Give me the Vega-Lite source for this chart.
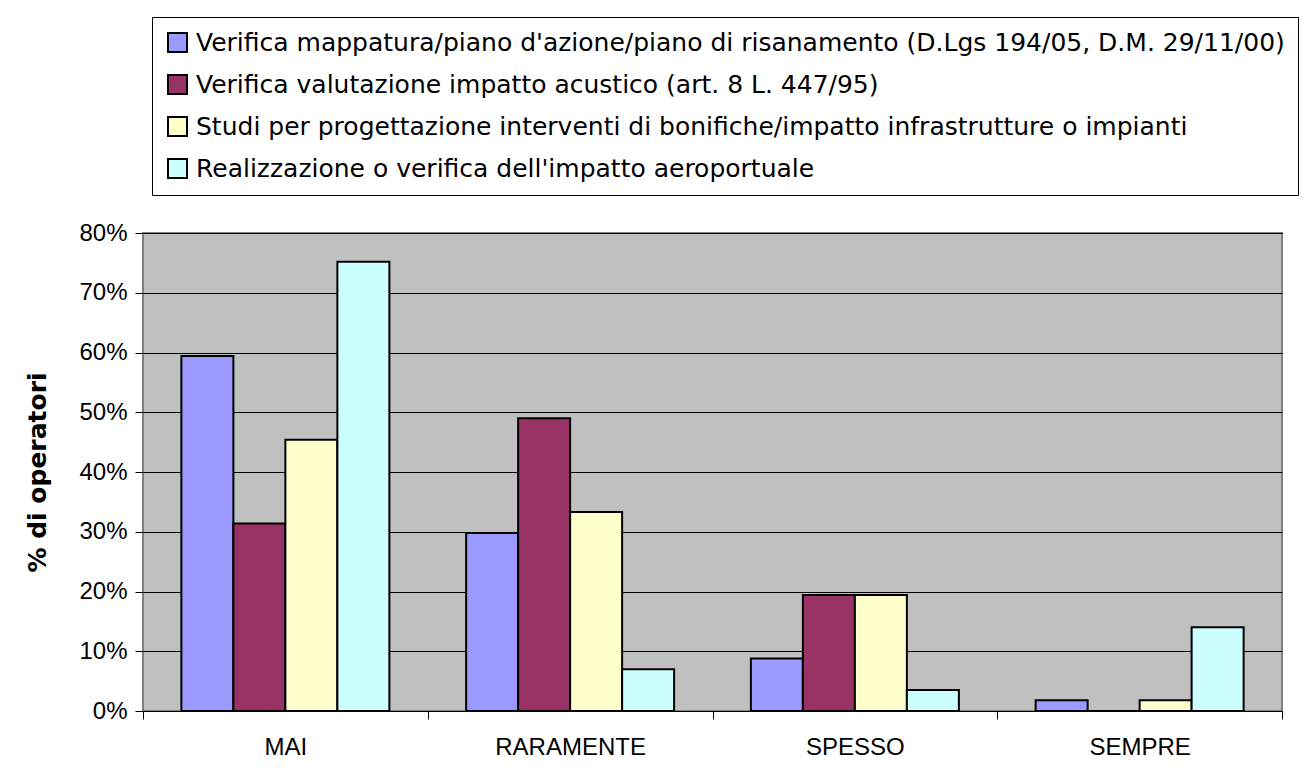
{
  "$schema": "https://vega.github.io/schema/vega-lite/v6.json",
  "width": 1139,
  "height": 478,
  "autosize": {"type": "none"},
  "padding": {"left": 143, "top": 233, "right": 24, "bottom": 63},
  "background": "white",
  "data": {
    "values": [
      {"freq": "MAI", "serie": "Verifica mappatura/piano d'azione/piano di risanamento (D.Lgs 194/05, D.M. 29/11/00)", "val": 0.594},
      {"freq": "MAI", "serie": "Verifica valutazione impatto acustico (art. 8 L. 447/95)", "val": 0.314},
      {"freq": "MAI", "serie": "Studi per progettazione interventi di bonifiche/impatto infrastrutture o impianti", "val": 0.454},
      {"freq": "MAI", "serie": "Realizzazione o verifica dell'impatto aeroportuale", "val": 0.752},
      {"freq": "RARAMENTE", "serie": "Verifica mappatura/piano d'azione/piano di risanamento (D.Lgs 194/05, D.M. 29/11/00)", "val": 0.298},
      {"freq": "RARAMENTE", "serie": "Verifica valutazione impatto acustico (art. 8 L. 447/95)", "val": 0.49},
      {"freq": "RARAMENTE", "serie": "Studi per progettazione interventi di bonifiche/impatto infrastrutture o impianti", "val": 0.333},
      {"freq": "RARAMENTE", "serie": "Realizzazione o verifica dell'impatto aeroportuale", "val": 0.07},
      {"freq": "SPESSO", "serie": "Verifica mappatura/piano d'azione/piano di risanamento (D.Lgs 194/05, D.M. 29/11/00)", "val": 0.088},
      {"freq": "SPESSO", "serie": "Verifica valutazione impatto acustico (art. 8 L. 447/95)", "val": 0.194},
      {"freq": "SPESSO", "serie": "Studi per progettazione interventi di bonifiche/impatto infrastrutture o impianti", "val": 0.194},
      {"freq": "SPESSO", "serie": "Realizzazione o verifica dell'impatto aeroportuale", "val": 0.035},
      {"freq": "SEMPRE", "serie": "Verifica mappatura/piano d'azione/piano di risanamento (D.Lgs 194/05, D.M. 29/11/00)", "val": 0.018},
      {"freq": "SEMPRE", "serie": "Verifica valutazione impatto acustico (art. 8 L. 447/95)", "val": 0.0},
      {"freq": "SEMPRE", "serie": "Studi per progettazione interventi di bonifiche/impatto infrastrutture o impianti", "val": 0.018},
      {"freq": "SEMPRE", "serie": "Realizzazione o verifica dell'impatto aeroportuale", "val": 0.14}
    ]
  },
  "mark": {"type": "bar", "stroke": "black", "strokeWidth": 2},
  "encoding": {
    "x": {
      "field": "freq",
      "type": "nominal",
      "sort": ["MAI", "RARAMENTE", "SPESSO", "SEMPRE"],
      "scale": {"paddingInner": 0, "paddingOuter": 0},
      "axis": {
        "title": null,
        "labelAngle": 0,
        "labelFont": "Liberation Sans",
        "labelFontSize": 24,
        "labelColor": "black",
        "labelPadding": 16,
        "tickBand": "extent",
        "ticks": true,
        "tickSize": 8,
        "tickColor": "black",
        "domain": true,
        "domainColor": "black",
        "domainWidth": 1,
        "grid": false
      }
    },
    "xOffset": {
      "field": "serie",
      "type": "nominal",
      "sort": [
        "Verifica mappatura/piano d'azione/piano di risanamento (D.Lgs 194/05, D.M. 29/11/00)",
        "Verifica valutazione impatto acustico (art. 8 L. 447/95)",
        "Studi per progettazione interventi di bonifiche/impatto infrastrutture o impianti",
        "Realizzazione o verifica dell'impatto aeroportuale"
      ],
      "scale": {"paddingInner": 0, "paddingOuter": 0.738}
    },
    "y": {
      "field": "val",
      "type": "quantitative",
      "scale": {"domain": [0, 0.8], "nice": false},
      "axis": {
        "title": "% di operatori",
        "titleFont": "DejaVu Sans",
        "titleFontWeight": "bold",
        "titleFontSize": 25,
        "titleColor": "black",
        "titlePadding": 28,
        "values": [0, 0.1, 0.2, 0.3, 0.4, 0.5, 0.6, 0.7, 0.8],
        "format": ".0%",
        "labelFont": "Liberation Sans",
        "labelFontSize": 24,
        "labelColor": "black",
        "labelPadding": 8,
        "tickSize": 8,
        "tickColor": "black",
        "domain": false,
        "grid": true,
        "gridColor": "black",
        "gridWidth": 1,
        "gridOpacity": 1
      }
    },
    "color": {
      "field": "serie",
      "type": "nominal",
      "scale": {
        "domain": [
          "Verifica mappatura/piano d'azione/piano di risanamento (D.Lgs 194/05, D.M. 29/11/00)",
          "Verifica valutazione impatto acustico (art. 8 L. 447/95)",
          "Studi per progettazione interventi di bonifiche/impatto infrastrutture o impianti",
          "Realizzazione o verifica dell'impatto aeroportuale"
        ],
        "range": ["#9999FF", "#993366", "#FFFFCC", "#CCFFFF"]
      },
      "legend": {
        "title": null,
        "orient": "none",
        "legendX": 9,
        "legendY": -216,
        "direction": "vertical",
        "padding": 13,
        "strokeColor": "black",
        "fillColor": "white",
        "symbolType": "square",
        "symbolSize": 361,
        "symbolStrokeColor": "black",
        "symbolStrokeWidth": 2,
        "symbolOpacity": 1,
        "labelFont": "DejaVu Sans",
        "labelFontSize": 25,
        "labelColor": "black",
        "labelOffset": 6,
        "labelLimit": 2000,
        "rowPadding": 15
      }
    }
  },
  "config": {
    "view": {"fill": "#C0C0C0", "stroke": "#808080", "strokeWidth": 2}
  }
}
